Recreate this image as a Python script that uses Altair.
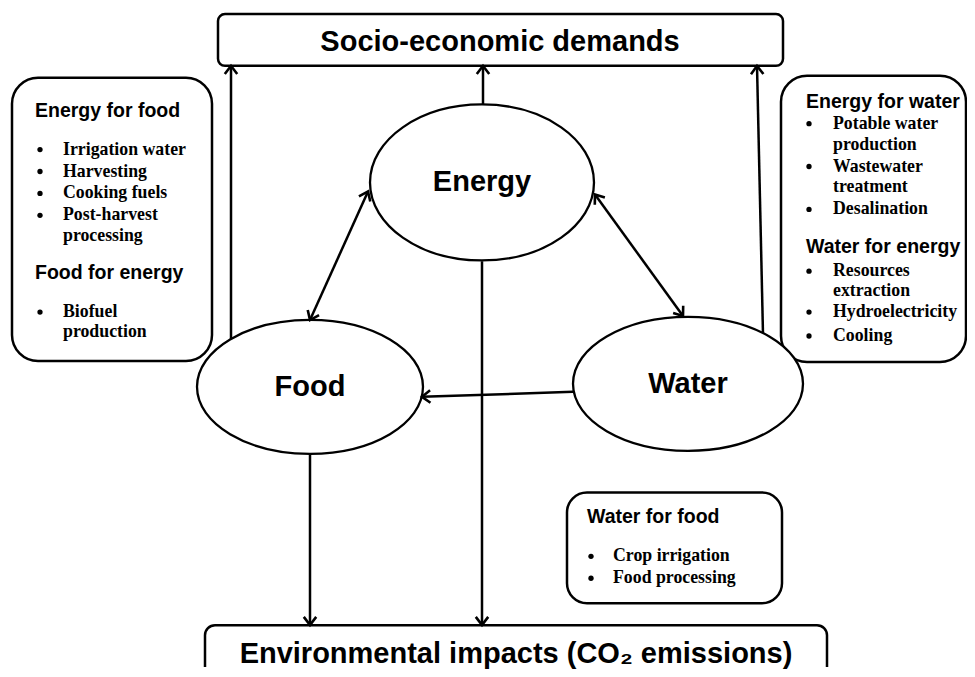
import math
import altair as alt
import pandas as pd

# ---------------- data ----------------
# rounded boxes (pixel frame of the reference image)
box_x1 = [218, 205, 12, 781, 567]
box_y1 = [14, 627, 78, 76, 494]
box_x2 = [783, 827, 212, 966, 782]
box_y2 = [66, 700, 362, 363, 605]
box_radius = [7, 10, 26, 26, 20]

# ellipses (nodes)
node_names = ["Energy", "Food", "Water"]
node_cx = [482, 310, 688]
node_cy = [183, 388, 385]
node_rx = [112, 113, 115]
node_ry = [78, 67, 67]

# connectors: start -> end, with heads
arrow_x1 = [231, 483, 763, 368, 595, 573, 482, 310]
arrow_y1 = [340, 105, 335, 192, 195, 393, 262, 455]
arrow_x2 = [231, 483, 757, 310, 683, 422, 482, 310]
arrow_y2 = [66, 66, 66, 321, 317, 398, 627, 627]
arrow_double = [False, False, False, True, True, False, False, False]

# big labels
big_text = ["Socio-economic demands", "Environmental impacts (CO\u2082 emissions)"]
big_x = [500, 516]
big_y = [42, 656]

# box headings
head_text = ["Energy for food", "Food for energy", "Energy for water",
             "Water for energy", "Water for food"]
head_x = [35, 35, 806, 806, 587]
head_y = [111, 274, 102, 248, 519]

# bullet list lines
item_text = ["Irrigation water", "Harvesting", "Cooking fuels", "Post-harvest",
             "processing", "Biofuel", "production",
             "Potable water", "production", "Wastewater", "treatment",
             "Desalination", "Resources", "extraction", "Hydroelectricity",
             "Cooling",
             "Crop irrigation", "Food processing"]
item_x = [63] * 7 + [833] * 9 + [613] * 2
item_y = [150, 172, 194, 216, 237, 313, 333,
          124, 145, 167, 188, 210, 272, 292, 313, 337,
          558, 580]
item_bullet = [True, True, True, True, False, True, False,
               True, False, True, False, True, True, False, True, True,
               True, True]
bullet_x = {63: 40, 833: 809, 613: 591}

# ---------------- helpers ----------------
XS = alt.Scale(domain=[8, 967], nice=False, zero=False)
YS = alt.Scale(domain=[8, 669], nice=False, zero=False, reverse=True)


def X(f="x"):
    return alt.X(f + ":Q", scale=XS, axis=None)


def Y(f="y"):
    return alt.Y(f + ":Q", scale=YS, axis=None)


def ellipse_path(ratio):
    k = 0.5523
    r = ratio
    return (f"M1,0 C1,{k*r:.4f} {k:.4f},{r:.4f} 0,{r:.4f} "
            f"C{-k:.4f},{r:.4f} -1,{k*r:.4f} -1,0 "
            f"C-1,{-k*r:.4f} {-k:.4f},{-r:.4f} 0,{-r:.4f} "
            f"C{k:.4f},{-r:.4f} 1,{-k*r:.4f} 1,0 Z")


CHEVRON = "M-1.2,-0.9 L0,0 L-1.2,0.9"

# ---------------- layers ----------------
layers = []

boxes = pd.DataFrame({"x": box_x1, "y": box_y1, "x2": box_x2,
                      "y2": box_y2, "r": box_radius})
for i in range(len(boxes)):
    layers.append(
        alt.Chart(boxes.iloc[[i]]).mark_rect(
            fill="white", stroke="black", strokeWidth=2.5,
            cornerRadius=int(boxes.r[i]), clip=True
        ).encode(x=X(), y=Y(), x2="x2:Q", y2="y2:Q")
    )

arrows = pd.DataFrame({"x": arrow_x1, "y": arrow_y1,
                       "x2": arrow_x2, "y2": arrow_y2})
layers.append(
    alt.Chart(arrows).mark_rule(color="black", strokeWidth=2.5)
    .encode(x=X(), y=Y(), x2="x2:Q", y2="y2:Q")
)

nodes = pd.DataFrame({
    "name": node_names, "x": node_cx, "y": node_cy,
    "shape": [ellipse_path(ry / rx) for rx, ry in zip(node_rx, node_ry)],
    "size": [(2 * rx) ** 2 for rx in node_rx],
})
layers.append(
    alt.Chart(nodes).mark_point(filled=False, fill="white", fillOpacity=1,
                                stroke="black", strokeWidth=2.3, opacity=1)
    .encode(x=X(), y=Y(),
            shape=alt.Shape("shape:N", scale=None, legend=None),
            size=alt.Size("size:Q", scale=None, legend=None))
)

hx, hy, ha = [], [], []
for x1, y1, x2, y2, d in zip(arrow_x1, arrow_y1, arrow_x2, arrow_y2, arrow_double):
    hx.append(x2); hy.append(y2)
    ha.append(math.degrees(math.atan2(y2 - y1, x2 - x1)) % 360)
    if d:
        hx.append(x1); hy.append(y1)
        ha.append(math.degrees(math.atan2(y1 - y2, x1 - x2)) % 360)
heads = pd.DataFrame({"x": hx, "y": hy, "a": ha})
layers.append(
    alt.Chart(heads).mark_point(shape=CHEVRON, filled=False, stroke="black",
                                strokeWidth=2.6, size=190, opacity=1,
                                strokeJoin="miter")
    .encode(x=X(), y=Y(), angle=alt.Angle("a:Q", scale=None))
)

layers.append(
    alt.Chart(nodes).mark_text(font="Liberation Sans", fontWeight="bold",
                               fontSize=29, color="black", align="center",
                               baseline="middle")
    .encode(x=X(), y=Y(), text="name:N")
)

big = pd.DataFrame({"x": big_x, "y": big_y, "t": big_text})
layers.append(
    alt.Chart(big).mark_text(font="Liberation Sans", fontWeight="bold",
                             fontSize=29, color="black", align="center",
                             baseline="middle")
    .encode(x=X(), y=Y(), text="t:N")
)

heads_t = pd.DataFrame({"x": head_x, "y": head_y, "t": head_text})
layers.append(
    alt.Chart(heads_t).mark_text(font="Liberation Sans", fontWeight="bold",
                                 fontSize=19.5, color="black", align="left",
                                 baseline="middle")
    .encode(x=X(), y=Y(), text="t:N")
)

items = pd.DataFrame({"x": item_x, "y": item_y, "t": item_text})
layers.append(
    alt.Chart(items).mark_text(font="Liberation Serif", fontWeight="bold",
                               fontSize=17.8, color="black", align="left",
                               baseline="middle")
    .encode(x=X(), y=Y(), text="t:N")
)

bul = pd.DataFrame({
    "x": [bullet_x[x] for x, b in zip(item_x, item_bullet) if b],
    "y": [y for y, b in zip(item_y, item_bullet) if b],
})
layers.append(
    alt.Chart(bul).mark_circle(color="black", size=28, opacity=1)
    .encode(x=X(), y=Y())
)

chart = alt.layer(*layers).properties(
    width=959, height=661,
    autosize=alt.AutoSizeParams(type="fit", contains="padding"),
    padding=0, background="white"
).configure_view(stroke=None)

chart.save("out.html", embed_options={"renderer": "svg", "actions": False})
